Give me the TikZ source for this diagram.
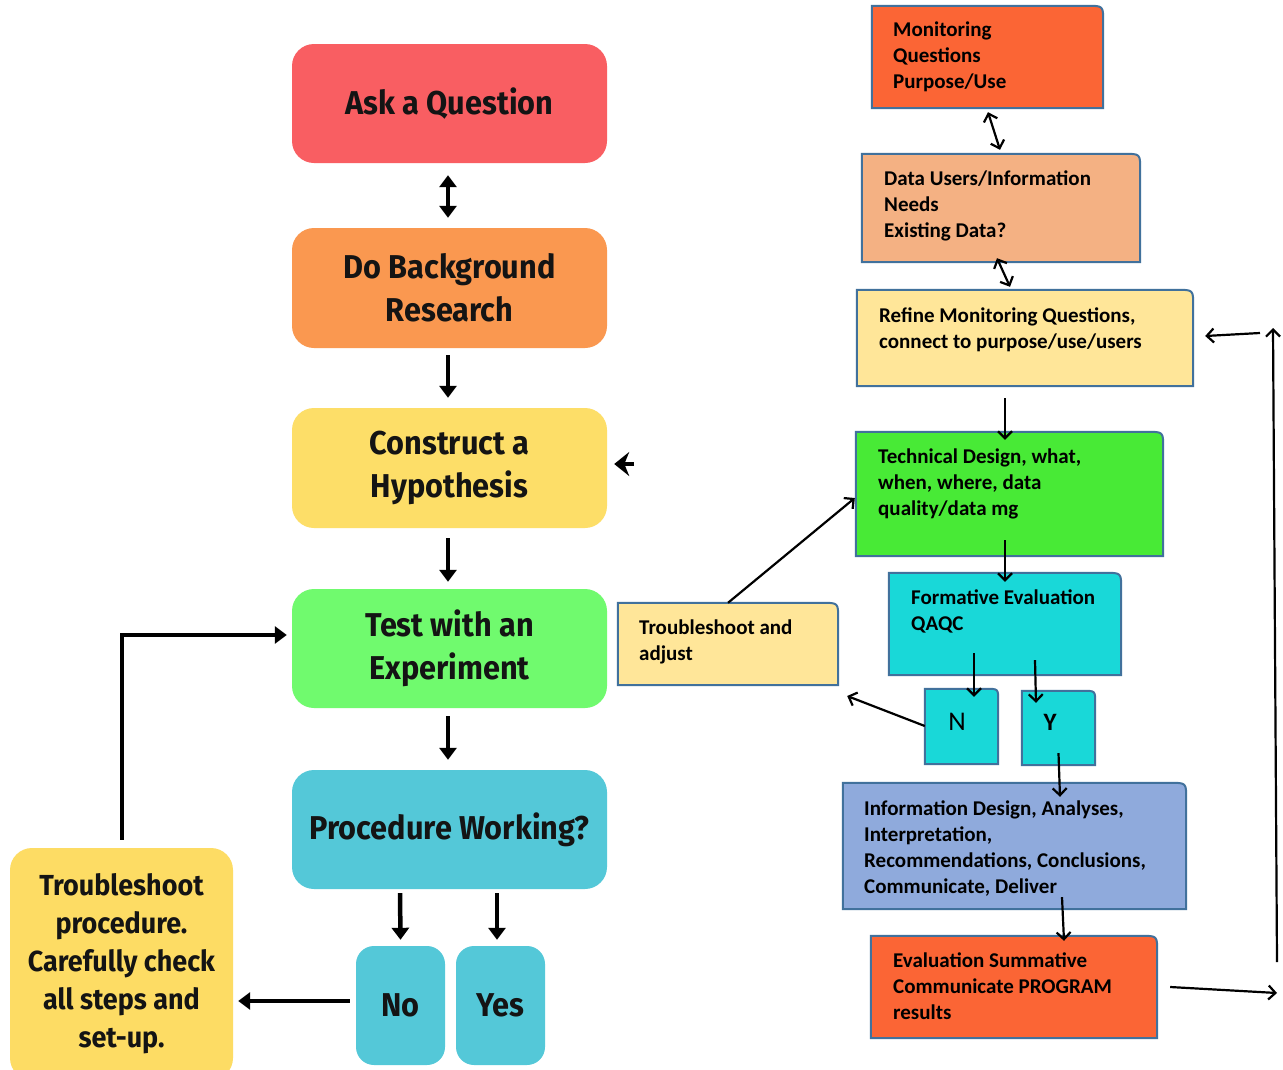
\documentclass[tikz,border=0pt]{standalone}
\usepackage{fontspec}
\usetikzlibrary{arrows.meta,calc,fit}
\newfontfamily\calfont{Carlito}
\newfontfamily\condfont[FakeStretch=0.93]{Fira Sans}
\definecolor{rborder}{HTML}{41719C}
\definecolor{cAsk}{HTML}{F95E62}
\definecolor{cBg}{HTML}{FA9850}
\definecolor{cCon}{HTML}{FDDE68}
\definecolor{cTest}{HTML}{70FA6E}
\definecolor{cProc}{HTML}{54C8D8}
\definecolor{cTs}{HTML}{FDDC64}
\definecolor{cMon}{HTML}{FB6535}
\definecolor{cData}{HTML}{F4B183}
\definecolor{cRef}{HTML}{FFE699}
\definecolor{cTech}{HTML}{48EA36}
\definecolor{cForm}{HTML}{19D8D8}
\definecolor{cInfo}{HTML}{8FAADC}
\newcommand\rbox[7]{%
  \node[fit={(#2,#3) (#4,#5)}, inner sep=0pt] (#1) {};
  \draw[rline, fill=#6] (#1.south west) -- (#1.north west) -- ([xshift=-#7pt]#1.north east)
     .. controls (#1.north east) .. ([yshift=-#7pt]#1.north east) -- (#1.south east) -- cycle;}
\begin{document}
\begin{tikzpicture}[x=1pt,y=-1pt,
  lbox/.style={rounded corners=22pt, inner sep=0pt, align=center,
    font=\condfont\bfseries\fontsize{33}{43}\selectfont, text=black!92},
  rline/.style={draw=rborder, line width=2pt},
  rtext/.style={anchor=north west, inner sep=0pt, align=left,
    font=\calfont\bfseries\fontsize{21}{26}\selectfont},
  thk/.style={line width=4.5pt, -{Triangle[length=12pt,width=17pt]}},
  thn/.style={line width=2.2pt, -{Straight Barb[length=7pt,width=14pt]}}]
\useasboundingbox (0,0) rectangle (1283,1069);
\fill[white] (0,0) rectangle (1283,1069);

% ---------------- left flow ----------------
\node[lbox, fill=cAsk, minimum width=315pt, minimum height=119pt] (ask) at (449.5,103.5) {Ask a Question};
\node[lbox, fill=cBg, minimum width=315pt, minimum height=120pt] (bg) at (449.5,288) {Do Background\\Research};
\node[lbox, fill=cCon, minimum width=315pt, minimum height=120pt] (con) at (449.5,468) {Construct a\\Hypothesis};
\node[lbox, fill=cTest, minimum width=315pt, minimum height=119pt] (test) at (449.5,648.5) {Test with an\\Experiment};
\node[lbox, fill=cProc, minimum width=315pt, minimum height=119pt] (proc) at (449.5,829.5) {Procedure Working?};
\node[lbox, rounded corners=18pt, fill=cProc, minimum width=89pt, minimum height=119pt] (no) at (400.5,1005.5) {No};
\node[lbox, rounded corners=18pt, fill=cProc, minimum width=89pt, minimum height=119pt] (yes) at (500.5,1005.5) {Yes};
\node[lbox, fill=cTs, minimum width=223pt, minimum height=232pt,
  font=\condfont\bfseries\fontsize{29}{38}\selectfont] (tsp) at (121.5,964)
  {Troubleshoot\\procedure.\\Carefully check\\all steps and\\set-up.};

\draw[thk, {Triangle[length=12pt,width=17pt]}-{Triangle[length=12pt,width=17pt]}]
  ($(ask.south)+(-1.5,12)$) -- ($(bg.north)+(-1.5,-10)$);
\draw[thk] ($(bg.south)+(-1.5,7)$) -- ($(con.north)+(-1.5,-10)$);
\draw[thk] ($(con.south)+(-1.5,10)$) -- ($(test.north)+(-1.5,-7)$);
\draw[thk] ($(test.south)+(-1.5,8)$) -- ($(proc.north)+(-1.5,-10)$);
\draw[thk] ($(proc.south)+(-49.5,4)$) -- ($(no.north)+(0,-6)$);
\draw[thk] ($(proc.south)+(47.5,4)$) -- ($(yes.north)+(-3.5,-6)$);
\draw[thk] ($(no.west)+(-6,-4.5)$) -- ($(tsp.east)+(5,37)$);
\draw[thk] ($(tsp.north)+(0.5,-8)$) |- ($(test.west)+(-5,-13.5)$);
\coordinate (hstart) at (634,464);
\draw[line width=4pt, -{Stealth[length=15pt,width=24pt]}] (hstart) -- ($(con.east)+(7,-4)$);

% ---------------- right flow ----------------
\rbox{mon}{872}{6}{1103}{108}{cMon}{16}
\rbox{data}{862}{154}{1140}{262}{cData}{16}
\rbox{refine}{857}{290}{1193}{386}{cRef}{16}
\rbox{tech}{856}{432}{1163}{556}{cTech}{16}
\rbox{form}{889}{573}{1121}{675}{cForm}{16}
\rbox{nbox}{925}{689}{998}{764}{cForm}{12}
\rbox{ybox}{1022}{691}{1095}{765}{cForm}{12}
\rbox{info}{843}{783}{1186}{909}{cInfo}{16}
\rbox{eval}{871}{936}{1157}{1038}{cMon}{16}
\rbox{tsa}{618}{603}{838}{685}{cRef}{16}

\node[rtext] (tmon) at (893,18.5) {\strut Monitoring\\Questions\\Purpose/Use};
\node[rtext] (tdata) at (884,166.8) {\strut Data Users/Information\\Needs\\Existing Data?};
\node[rtext] (tref) at (879,303.8) {\strut Refine Monitoring Questions,\\connect to purpose/use/users};
\node[rtext] (ttech) at (878,444.8) {\strut Technical Design, what,\\when, where, data\\quality/data mg};
\node[rtext] (tform) at (911,585.8) {\strut Formative Evaluation\\QAQC};
\node[rtext] (tinfo) at (864,796.8) {\strut Information Design, Analyses,\\Interpretation,\\Recommendations, Conclusions,\\Communicate, Deliver};
\node[rtext] (teval) at (893,948.8) {\strut Evaluation Summative\\Communicate PROGRAM\\results};
\node[rtext] (ttsa) at (639,615.8) {\strut Troubleshoot and\\adjust};
\node[inner sep=0pt, font=\calfont\fontsize{27}{30}\selectfont] (tn) at (957,722) {N};
\node[inner sep=0pt, font=\calfont\bfseries\fontsize{25}{30}\selectfont] (ty) at (1050,722) {Y};

\draw[thn, {Straight Barb[length=7pt,width=14pt]}-{Straight Barb[length=7pt,width=14pt]}]
  ($(mon.south)+(0.5,4)$) -- ($(data.north)+(-1,-4)$);
\draw[thn, {Straight Barb[length=7pt,width=14pt]}-{Straight Barb[length=7pt,width=14pt]}]
  ($(data.south)+(-4,-4)$) -- ($(refine.north)+(-15,-3)$);
\draw[thn] ($(refine.south)+(-20,12)$) -- ($(tech.north)+(-4.5,8)$);
\draw[thn] ($(tech.south)+(-4.5,-16)$) -- ($(form.north)+(0,9)$);
\draw[thn] ($(form.south)+(-31,-22)$) -- ($(nbox.north)+(12.5,8)$);
\draw[thn] ($(form.south)+(30,-15)$) -- ($(ybox.north)+(-22.5,12)$);
\draw[thn] ($(ybox.south)+(0,-12)$) -- ($(info.north)+(45.5,14)$);
\draw[thn] ($(info.south)+(47.5,-12)$) -- ($(eval.north)+(50,5)$);
\draw[thn] ($(nbox.west)+(0,-0.5)$) -- ($(tsa.east)+(9,52)$);
\draw[thn] (tsa.north) -- ($(tech.west)+(-1,4)$);
\coordinate (loopA) at (1277,993);
\coordinate (loopB) at (1277,962);
\coordinate (loopC) at (1273,328);
\coordinate (loopD) at (1260,333);
\draw[thn] ($(eval.east)+(13,0)$) -- (loopA);
\draw[thn] (loopB) -- (loopC);
\draw[thn] (loopD) -- ($(refine.east)+(12,-2)$);
\end{tikzpicture}
\end{document}
